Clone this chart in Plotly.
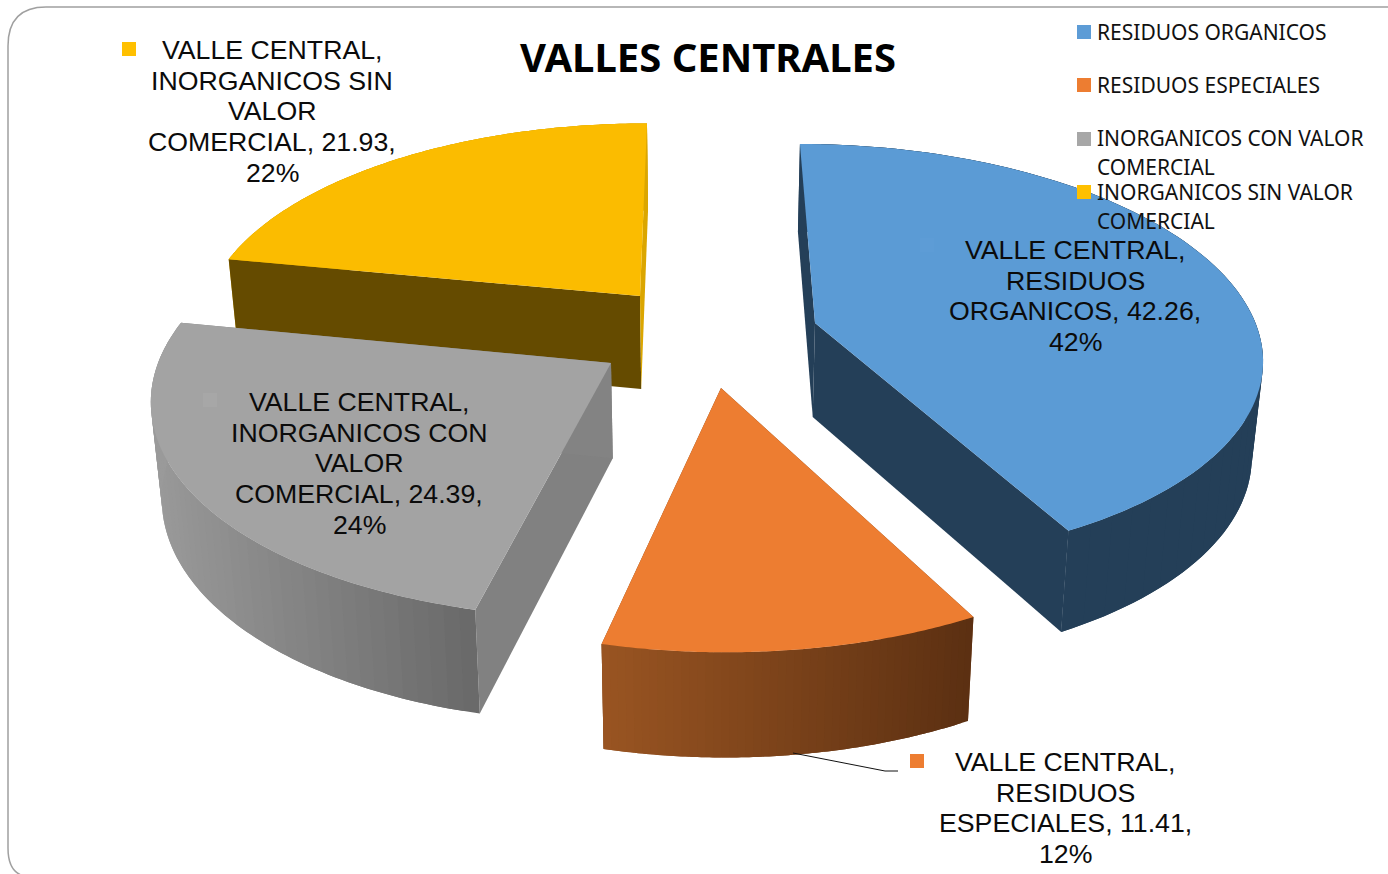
import math
import plotly.graph_objects as go

# ---------- data ----------
categories = ["RESIDUOS ORGANICOS", "RESIDUOS ESPECIALES",
              "INORGANICOS CON VALOR COMERCIAL", "INORGANICOS SIN VALOR COMERCIAL"]
values = [42.26, 11.41, 24.39, 21.93]
percents = ["42%", "12%", "24%", "22%"]
series_name = "VALLE CENTRAL"
title_text = "VALLES CENTRALES"
label_lines = [
    [series_name + ",", "RESIDUOS", f"ORGANICOS, {values[0]},", percents[0]],
    [series_name + ",", "RESIDUOS", f"ESPECIALES, {values[1]},", percents[1]],
    [series_name + ",", "INORGANICOS CON", "VALOR", f"COMERCIAL, {values[2]},", percents[2]],
    [series_name + ",", "INORGANICOS SIN", "VALOR", f"COMERCIAL, {values[3]},", percents[3]],
]
legend_lines = [["RESIDUOS ORGANICOS"], ["RESIDUOS ESPECIALES"],
                ["INORGANICOS CON VALOR", "COMERCIAL"], ["INORGANICOS SIN VALOR", "COMERCIAL"]]

# ---------- style / layout ----------
W, H = 1388, 874
top_col = ["#5B9BD5", "#ED7D31", "#A3A3A3", "#FBBC00"]
marker_col = ["#5D9CD6", "#ED7D31", "#A7A7A7", "#FFC000"]
apex_px = [(815, 323), (721, 388), (611, 363), (640, 296)]   # explosion of each slice on screen
wall_start = ["#243F58", "#7A4218", "#818181", "#654B00"]
wall_end = ["#243F58", "#7A4218", "#838383", "#DBA600"]
rim_left = ["#243F58", "#9A5522", "#9A9A9A", "#DBA600"]
rim_right = ["#243F58", "#5C3012", "#6A6A6A", "#DBA600"]
rim_behind_walls = [False, False, False, True]
label_center = [(1075, 250), (1065, 762), (359, 402), (272, 50)]
label_marker = [(927, 245), (917, 761), (210, 400), (129, 49)]
legend_marker_y = [32, 85, 139, 192]
legend_text_y = [31.5, 85, 137.5, 191.5]
LINE_STEP = 30.7
CX, CY, A, B, K = 696.0, 360.0, 452.0, 215.8, 0.1488


def project(X, U):
    w = 1 + K * U
    return CX + A * X / w, CY - B * U / w


def unproject(px, py):
    dy = CY - py
    U = dy / (B - K * dy)
    X = (px - CX) * (1 + K * U) / A
    return X, U


def lower(p):
    return 700 + (p[0] - 700) * 0.98, 1.034 * p[1] + 83


def poly(fig, pts, color):
    xs = [p[0] for p in pts] + [pts[0][0]]
    ys = [p[1] for p in pts] + [pts[0][1]]
    fig.add_trace(go.Scatter(x=xs, y=ys, mode="none", fill="toself", fillcolor=color,
                             hoverinfo="skip", showlegend=False))


def mix(c1, c2, t):
    a = [int(c1[i:i + 2], 16) for i in (1, 3, 5)]
    b = [int(c2[i:i + 2], 16) for i in (1, 3, 5)]
    return "rgb(%d,%d,%d)" % tuple(round(a[i] + (b[i] - a[i]) * t) for i in range(3))


fig = go.Figure()
total = sum(values)
spans = []
acc = 0.0
for v in values:
    spans.append((acc / total * 2 * math.pi, (acc + v) / total * 2 * math.pi))
    acc += v

for idx in [3, 0, 2, 1]:  # back to front
    t0, t1 = spans[idx]
    X0, U0 = unproject(*apex_px[idx])
    n = 96
    arc = []
    for i in range(n + 1):
        t = t0 + (t1 - t0) * i / n
        arc.append(project(X0 + math.sin(t), U0 + math.cos(t)))
    apex = apex_px[idx]
    low_arc = [lower(p) for p in arc]

    def draw_rim():
        # overlapping quads painted in order, shaded left to right
        xmin = min(p[0] for p in arc)
        xmax = max(p[0] for p in arc)
        step = 2
        for i in range(0, n, step):
            j = min(i + step + 2, n)
            seg = arc[i:j + 1] + low_arc[i:j + 1][::-1]
            tt = (arc[i][0] - xmin) / (xmax - xmin)
            poly(fig, seg, mix(rim_left[idx], rim_right[idx], tt))

    def draw_walls():
        poly(fig, [apex, arc[0], lower(arc[0]), lower(apex)], wall_start[idx])
        poly(fig, [apex, arc[-1], lower(arc[-1]), lower(apex)], wall_end[idx])

    if rim_behind_walls[idx]:
        draw_rim()
        draw_walls()
    else:
        draw_walls()
        draw_rim()
    poly(fig, [apex] + arc, top_col[idx])

# leader line of the orange label
fig.add_trace(go.Scatter(x=[793, 885, 898], y=[753, 771, 771], mode="lines",
                         line=dict(color="#111111", width=1), hoverinfo="skip", showlegend=False))

# markers beside data labels and in legend
fig.add_trace(go.Scatter(x=[p[0] for p in label_marker], y=[p[1] for p in label_marker], mode="markers",
                         marker=dict(symbol="square", size=14, color=marker_col, line=dict(width=0)),
                         hoverinfo="skip", showlegend=False))
fig.add_trace(go.Scatter(x=[1084] * 4, y=legend_marker_y, mode="markers",
                         marker=dict(symbol="square", size=14, color=marker_col, line=dict(width=0)),
                         hoverinfo="skip", showlegend=False))

ann = []
for lines, (cx, cy) in zip(label_lines, label_center):
    for i, s in enumerate(lines):
        ann.append(dict(x=cx, y=cy + i * LINE_STEP, text=s, xref="x", yref="y", showarrow=False,
                        xanchor="center", yanchor="middle",
                        font=dict(family="Liberation Sans", size=26.7, color="#0B0B0B")))
for lines, y0 in zip(legend_lines, legend_text_y):
    for i, s in enumerate(lines):
        ann.append(dict(x=1095, y=y0 + i * 29.5, text=s, xref="x", yref="y", showarrow=False,
                        xanchor="left", yanchor="middle",
                        font=dict(family="Noto Sans", size=21, color="#111111")))
ann.append(dict(x=708, y=56.5, text="<b>" + title_text + "</b>", xref="x", yref="y", showarrow=False,
                xanchor="center", yanchor="middle",
                font=dict(family="Noto Sans", size=40, color="#000000")))

fig.update_layout(
    width=W, height=H, margin=dict(l=0, r=0, t=0, b=0), autosize=False,
    paper_bgcolor="white", plot_bgcolor="white", showlegend=False,
    xaxis=dict(range=[0, W], visible=False, fixedrange=True),
    yaxis=dict(range=[H, 0], visible=False, fixedrange=True),
    annotations=ann,
    shapes=[dict(type="path", xref="x", yref="y",
                 path="M 1388,7 L 46,7 Q 8,7 8,46 L 8,848 Q 8,872 24,876",
                 line=dict(color="#A0A0A0", width=1.5), layer="below")],
)
fig.write_html("out.html", config=dict(displayModeBar=False),
               post_script="document.body.style.margin='0';document.body.style.overflow='hidden';")
